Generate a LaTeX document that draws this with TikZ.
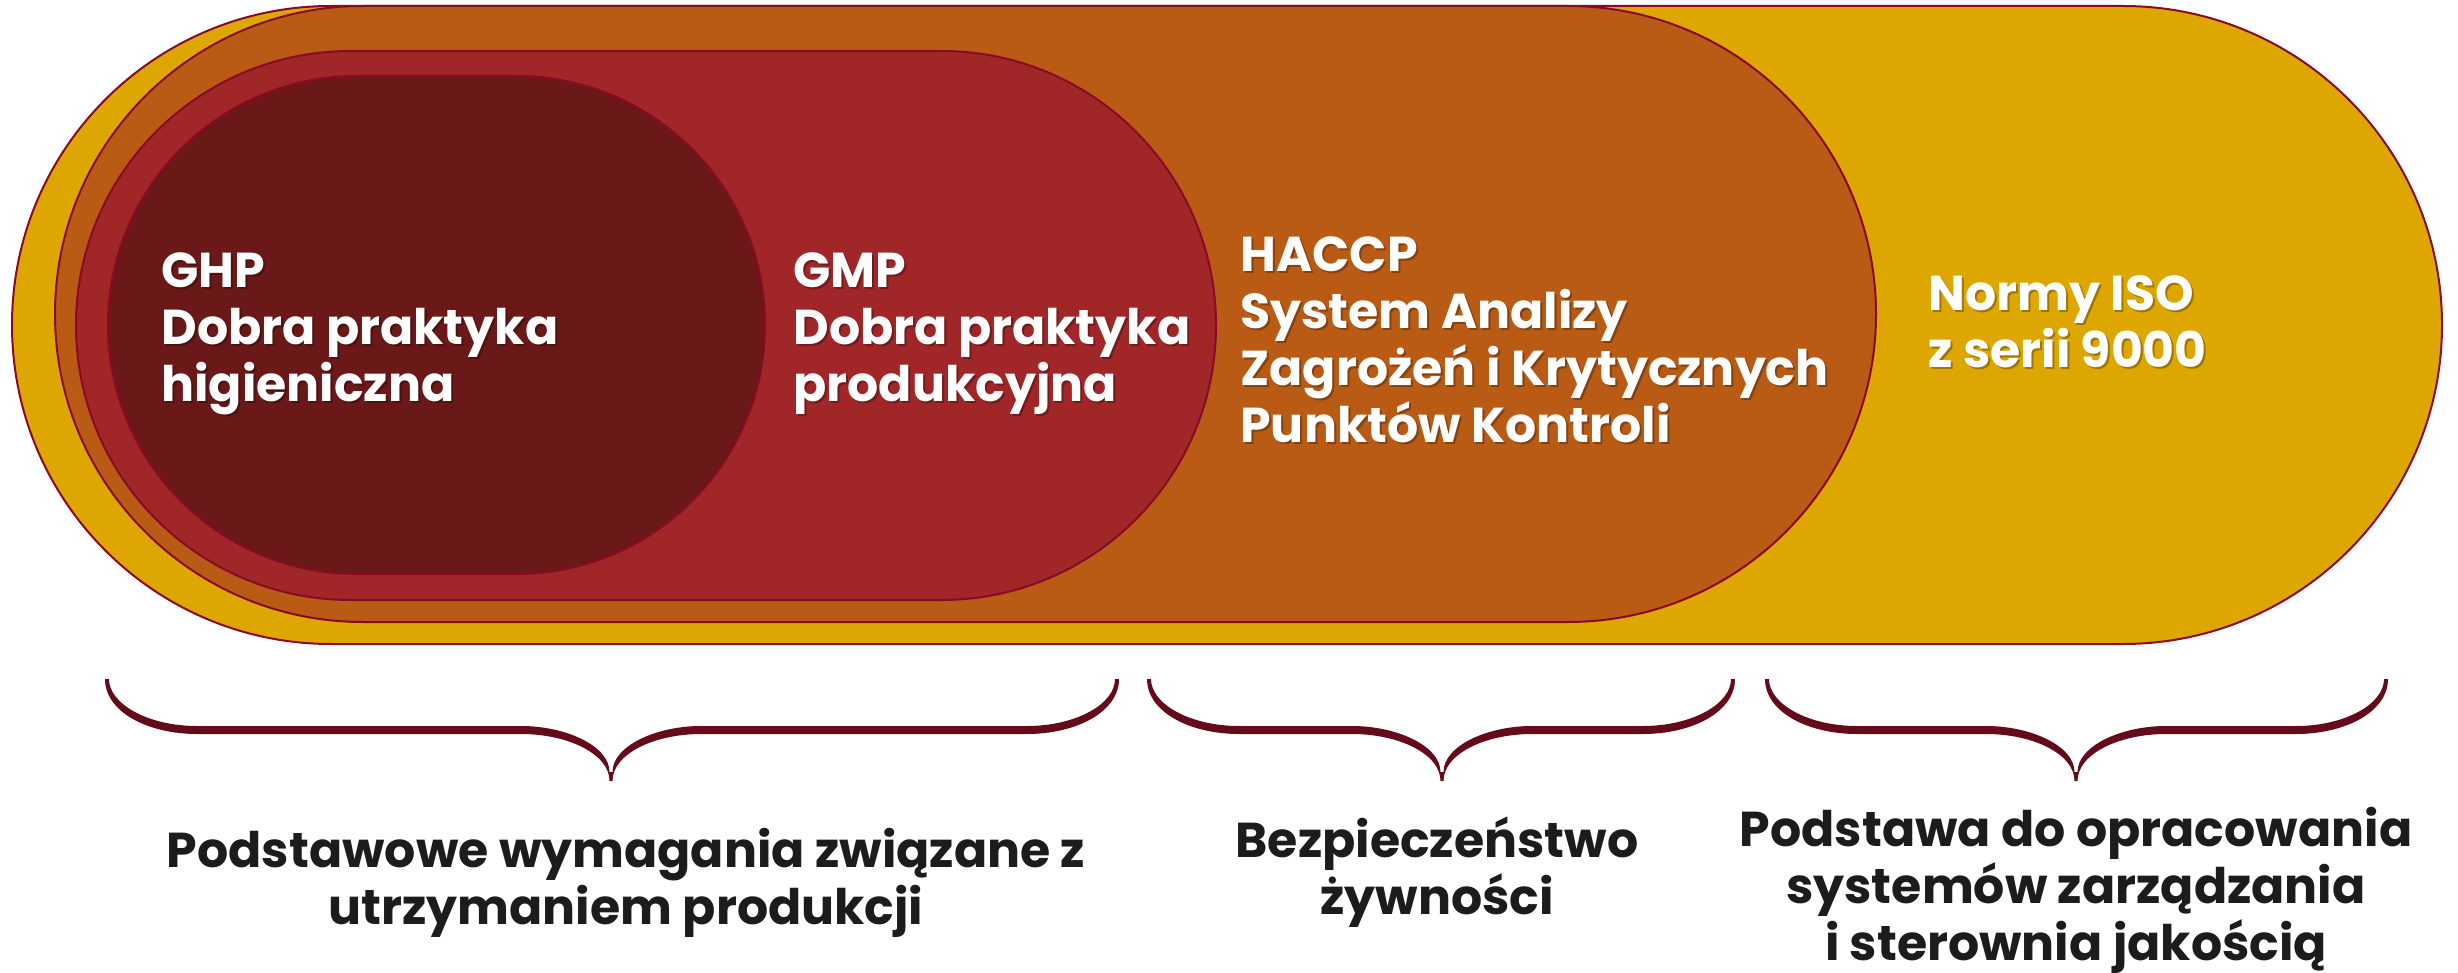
\documentclass[tikz,border=0pt]{standalone}
\usepackage{fontspec}
\setmainfont{Poppins}
\usetikzlibrary{shapes.misc}
\definecolor{cYellow}{HTML}{DDA600}
\definecolor{cOrange}{HTML}{B95B14}
\definecolor{cRed}{HTML}{A02628}
\definecolor{cDark}{HTML}{6A1818}
\definecolor{cBorder}{HTML}{8A0A26}
\definecolor{cBrace}{HTML}{650A18}
\definecolor{cText}{HTML}{1C1C1C}
% tapered curly brace: left end, tip, right end (x in px)
\newcommand{\mybrace}[3]{%
  \fill[cBrace] ({#1-2},679) .. controls ({#1-2},712) and ({#1+41},734) .. ({#1+90},734)
    -- ({#2-90},734) .. controls ({#2-43},734) and ({#2-1.5},754) .. ({#2-1.5},781)
    -- ({#2+1.5},781) .. controls ({#2+1.5},754) and ({#2+43},734) .. ({#2+90},734)
    -- ({#3-90},734) .. controls ({#3-41},734) and ({#3+2},712) .. ({#3+2},679)
    -- ({#3-2},679) .. controls ({#3-2},704) and ({#3-41},726) .. ({#3-90},726)
    -- ({#2+90},726) .. controls ({#2+45},726) and ({#2+1.5},746) .. ({#2+1.5},772)
    -- ({#2-1.5},772) .. controls ({#2-1.5},746) and ({#2-45},726) .. ({#2-90},726)
    -- ({#1+90},726) .. controls ({#1+41},726) and ({#1+2},704) .. ({#1+2},679) -- cycle;}
\begin{document}
\begin{tikzpicture}[x=0.5pt,y=-0.5pt,
  band/.style={rounded rectangle, draw=cBorder, line width=1pt, inner sep=0pt},
  lbl/.style={text=white, font=\bfseries\fontsize{24.5}{28.5}\selectfont, align=left, anchor=west, inner sep=0pt},
  lblshadow/.style={lbl, text=black, text opacity=0.28},
  captext/.style={text=cText, font=\bfseries\fontsize{24.5}{28.5}\selectfont, align=center, inner sep=0pt}]
\useasboundingbox (0,0) rectangle (2458,973);
% nested bands
\node[band, fill=cYellow, minimum width=1215pt, minimum height=319pt] (iso) at (1227,325) {};
\node[band, fill=cOrange, minimum width=910.5pt, minimum height=308pt] (haccp) at (965.5,314) {};
\node[band, fill=cRed, minimum width=570pt, minimum height=274.5pt] (gmp) at (646,325.5) {};
\node[band, fill=cDark, minimum width=328.5pt, minimum height=249pt] (ghp) at (436.5,325) {};
% label shadows
\node[lblshadow] (sghp) at (163,336) {GHP\\Dobra praktyka\\higieniczna};
\node[lblshadow] (sgmp) at (795,336) {GMP\\Dobra praktyka\\produkcyjna};
\node[lblshadow] (shaccp) at (1242,342) {HACCP\\System Analizy\\Zagrożeń i Krytycznych\\Punktów Kontroli};
\node[lblshadow] (siso) at (1930,324) {Normy ISO\\z serii 9000};
% labels
\node[lbl] (tghp) at (161,334) {GHP\\Dobra praktyka\\higieniczna};
\node[lbl] (tgmp) at (793,334) {GMP\\Dobra praktyka\\produkcyjna};
\node[lbl] (thaccp) at (1240,340) {HACCP\\System Analizy\\Zagrożeń i Krytycznych\\Punktów Kontroli};
\node[lbl] (tiso) at (1928,322) {Normy ISO\\z serii 9000};
% braces
\mybrace{107}{611}{1117}
\mybrace{1149}{1442}{1733}
\mybrace{1767}{2076}{2386}
% captions
\node[captext] (c1) at (626,883) {Podstawowe wymagania związane z\\utrzymaniem produkcji};
\node[captext] (c2) at (1437,872) {Bezpieczeństwo\\żywności};
\node[captext] (c3) at (2076,890) {Podstawa do opracowania\\systemów zarządzania\\i sterownia jakością};
\end{tikzpicture}
\end{document}
